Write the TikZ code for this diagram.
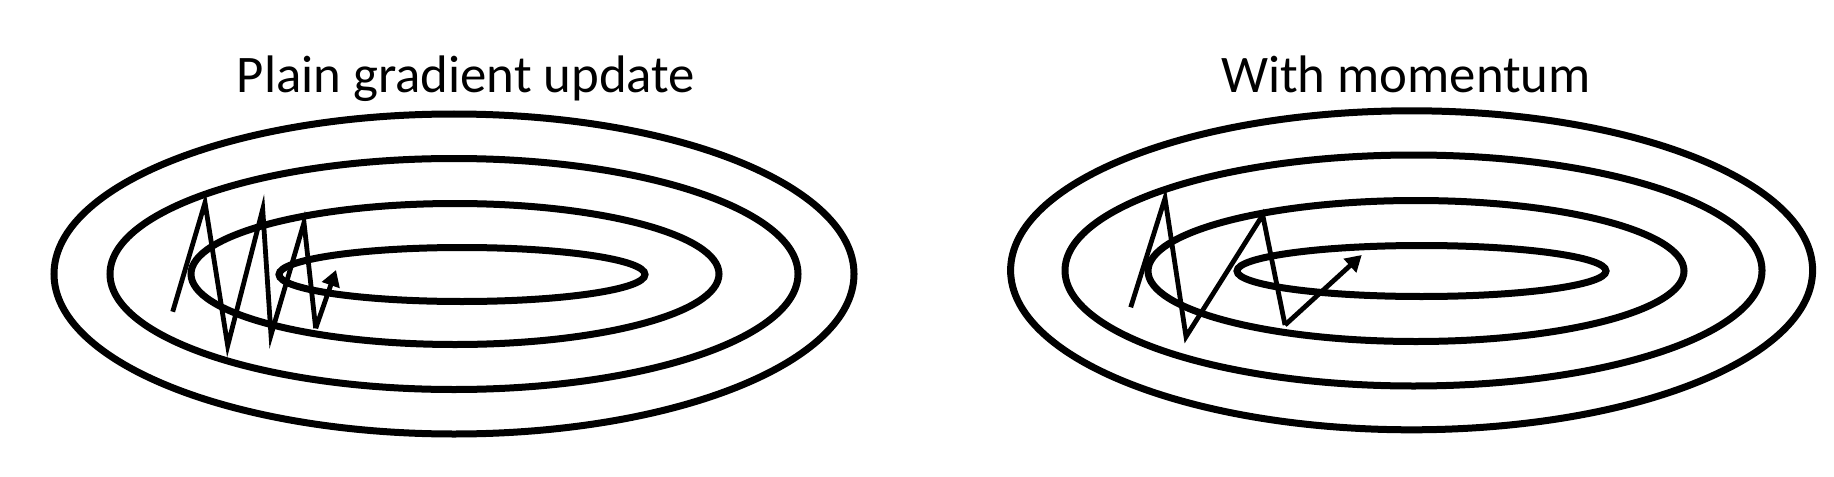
\documentclass[tikz,border=0pt]{standalone}
\usepackage{fontspec}
\setmainfont{Carlito}
\usetikzlibrary{arrows.meta}
\tikzset{
  contour/.style={line width=3.5pt, black},
  zig/.style={line width=2.4pt, black, miter limit=10},
  zigarrow/.style={zig, -{Triangle[length=8pt, width=9pt]}},
  title/.style={font=\fontsize{26.4pt}{31pt}\selectfont, anchor=base, inner sep=0pt}
}
\begin{document}
\begin{tikzpicture}[x=0.5pt, y=-0.5pt]
\useasboundingbox (0,0) rectangle (1834,476);
% titles
\node[title] (t1) at (466,93) {Plain gradient update};
\node[title] (t2) at (1406,93) {With momentum};
% left contours
\draw[contour] (454,274) ellipse [x radius=400, y radius=160];
\draw[contour] (454,274) ellipse [x radius=344, y radius=115.5];
\draw[contour] (455,274) ellipse [x radius=264, y radius=70.5];
\draw[contour] (462,274.5) ellipse [x radius=183, y radius=27];
% right contours
\draw[contour] (1411.6,270.3) ellipse [x radius=401, y radius=159.5];
\draw[contour] (1413.5,270.5) ellipse [x radius=348.5, y radius=115.5];
\draw[contour] (1416,271) ellipse [x radius=268, y radius=70.5];
\draw[contour] (1421.5,271) ellipse [x radius=184.5, y radius=25.5];
% left zigzag
\coordinate (a0) at (172.7,311.7);
\coordinate (a1) at (205,202.7);
\coordinate (a2) at (227.7,345.7);
\coordinate (a3) at (262.7,209.3);
\coordinate (a4) at (271,335);
\coordinate (a5) at (304,222.7);
\coordinate (a6) at (315.7,328.3);
\coordinate (a7) at (336,270);
\draw[zig] (a0) -- (a1) -- (a2) -- (a3) -- (a4) -- (a5) -- (a6);
\draw[zigarrow] (a6) -- (a7);
% right zigzag
\coordinate (b0) at (1130.7,307.3);
\coordinate (b1) at (1165,198.3);
\coordinate (b2) at (1186,336.7);
\coordinate (b3) at (1262.7,215);
\coordinate (b4) at (1285,325);
\coordinate (b5) at (1361.7,255);
\draw[zig] (b0) -- (b1) -- (b2) -- (b3) -- (b4);
\draw[zigarrow] (b4) -- (b5);
\end{tikzpicture}
\end{document}
